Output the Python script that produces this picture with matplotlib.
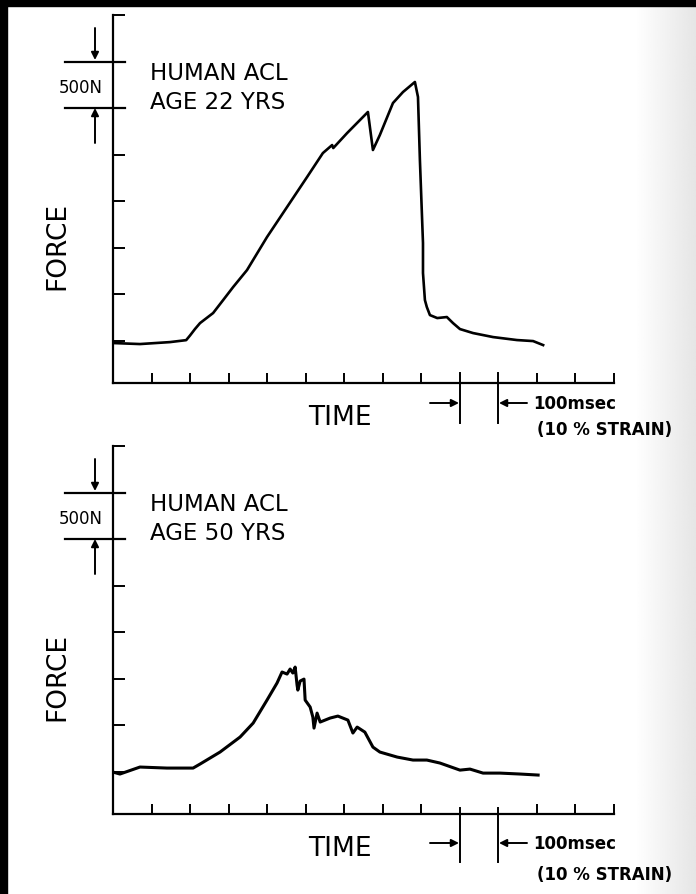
import numpy as np
import matplotlib
matplotlib.use("Agg")
import matplotlib.pyplot as plt
from matplotlib.patches import FancyArrowPatch, Rectangle

# ---------------- data (time in msec, force in N above the trace baseline tick) -------------
time_22 = [0, 70, 148, 190, 200, 213, 226, 260, 286, 312, 348, 400, 452, 504, 545, 569, 572, 608,
           662, 675, 693, 727, 753, 784, 792, 797, 805, 805, 810, 815, 823, 842, 867,
           883, 901, 935, 987, 1049, 1091, 1117]
force_22 = [-21, -32, -11, 10, 60, 130, 193, 301, 440, 580, 762, 1117, 1439, 1761, 2018, 2104, 2072, 2233,
            2459, 2051, 2212, 2555, 2673, 2781, 2620, 1943, 1052, 730, 440, 365, 279, 247, 258,
            193, 129, 86, 43, 11, 0, -43]

time_50 = [0, 18, 70, 140, 208, 226, 278, 330, 364, 400, 426, 439, 452, 460, 467, 473,
           478, 480, 486, 496, 499, 512, 519, 522, 530, 538, 564, 584, 610, 623, 634,
           654, 675, 693, 738, 779, 815, 849, 901, 927, 961, 1005, 1057, 1104]
force_50 = [0, -21, 54, 43, 43, 86, 215, 376, 526, 773, 956, 1074, 1052, 1106, 1063, 1127,
            934, 880, 977, 998, 773, 698, 590, 472, 633, 537, 580, 601, 558, 419, 483,
            429, 268, 215, 161, 129, 129, 97, 21, 32, -11, -11, -21, -32]

x_ticks = [100, 200, 300, 400, 500, 600, 700, 800, 1100, 1200, 1300]
scale_marks = [900, 1000]          # 100 msec marker
y_ticks = [0, 500, 1000, 1500, 2000, 3500]
scale_force = [2500, 3000]         # 500 N marker

titles = [("HUMAN ACL", "AGE 22 YRS"), ("HUMAN ACL", "AGE 50 YRS")]

W, H = 696, 894
fig = plt.figure(figsize=(W / 100, H / 100), dpi=100)
fig.patch.set_facecolor("white")

# scanned page shading on the right edge
gax = fig.add_axes([635 / W, 0, 61 / W, 1], zorder=-5)
grad = np.linspace(1.0, 0.90, 200)[None, :]
gax.imshow(np.repeat(grad, 10, axis=0), cmap="gray", vmin=0, vmax=1, aspect="auto")
gax.axis("off")

# black scan borders
fig.add_artist(Rectangle((0, 0), 7 / W, 1, transform=fig.transFigure, color="black", zorder=10))
fig.add_artist(Rectangle((0, 1 - 6 / H), 1, 6 / H, transform=fig.transFigure, color="black", zorder=10))

panels = [
    dict(bottom=383, t=time_22, f=force_22, title=titles[0], mark_lo=-344, mark_hi=-880, lw=1.9),
    dict(bottom=814, t=time_50, f=force_50, title=titles[1], mark_lo=-386, mark_hi=-966, lw=2.2),
]

ann = dict(arrowstyle="-|>", color="black", lw=1.4, mutation_scale=11, shrinkA=0, shrinkB=0)

for p in panels:
    b = p["bottom"]
    ax_top = b - 368
    ax = fig.add_axes([113 / W, 1 - b / H, 500.6 / W, 368 / H])
    ax.set_xlim(0, 1300)
    ax.set_ylim(-450, 3500)
    for s in ["top", "right"]:
        ax.spines[s].set_visible(False)
    for s in ["left", "bottom"]:
        ax.spines[s].set_linewidth(1.6)
        ax.spines[s].set_color("black")
    ax.set_xticks(x_ticks)
    ax.set_yticks(y_ticks)
    ax.tick_params(axis="x", direction="in", length=7.2, width=1.4, labelbottom=False)
    ax.tick_params(axis="y", direction="in", length=8.6, width=1.4, labelleft=False)
    ax.patch.set_alpha(0)

    ax.plot(p["t"], p["f"], color="black", lw=p["lw"], solid_joinstyle="round")

    for yv in scale_force:
        ax.plot([-125, 31], [yv, yv], color="black", lw=1.6, clip_on=False)
    for xv in scale_marks:
        ax.plot([xv, xv], [p["mark_lo"], p["mark_hi"]], color="black", lw=1.4, clip_on=False)

    # 500 N marker text + arrows
    fig.text(103 / W, 1 - (b - 290) / H, "500N", ha="right", va="baseline", fontsize=12,
             family="DejaVu Sans")
    fig.add_artist(FancyArrowPatch(posA=(95, H - (ax_top + 13)), posB=(95, H - (ax_top + 45)),
                                   transform=None, **ann))
    fig.add_artist(FancyArrowPatch(posA=(95, H - (ax_top + 128)), posB=(95, H - (ax_top + 93)),
                                   transform=None, **ann))

    # title
    fig.text(150 / W, 1 - (ax_top + 65) / H, p["title"][0], ha="left", va="baseline",
             fontsize=16.5, family="DejaVu Sans")
    fig.text(150 / W, 1 - (ax_top + 94) / H, p["title"][1], ha="left", va="baseline",
             fontsize=16.5, family="DejaVu Sans")

    # axis labels
    fig.text(340 / W, 1 - (b + 42) / H, "TIME", ha="center", va="baseline", fontsize=19,
             family="DejaVu Sans")
    fig.text(57 / W, 1 - (ax_top + 231) / H, "FORCE", ha="center", va="center", fontsize=19,
             rotation=90, family="DejaVu Sans")

    # 100 msec marker
    ya = b + 20 if b < 500 else b + 29
    fig.add_artist(FancyArrowPatch(posA=(430, H - ya), posB=(459, H - ya), transform=None, **ann))
    fig.add_artist(FancyArrowPatch(posA=(527, H - ya), posB=(499, H - ya), transform=None, **ann))
    fig.text(533 / W, 1 - (ya + 6) / H, "100msec", ha="left", va="baseline", fontsize=12,
             fontweight="bold", family="DejaVu Sans")
    yb = ya + 32 if b < 500 else ya + 37
    fig.text(537 / W, 1 - yb / H, "(10 % STRAIN)", ha="left", va="baseline", fontsize=12,
             fontweight="bold", family="DejaVu Sans")

fig.savefig("out.png", dpi=100, facecolor="white")
